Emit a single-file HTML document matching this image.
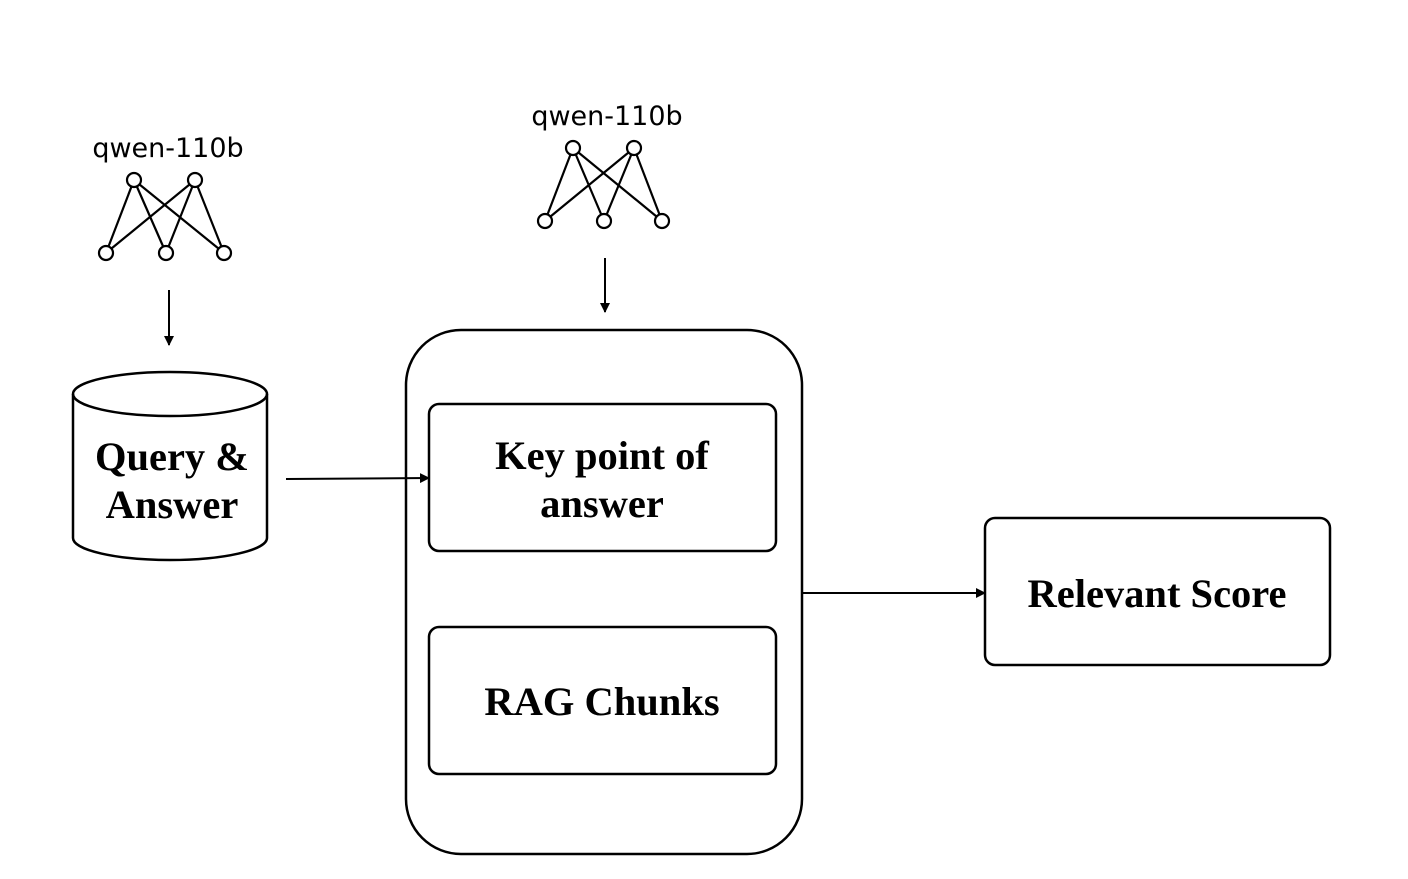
<!DOCTYPE html>
<html><head><style>
body{margin:0;background:#fff;}
svg{display:block;}
.s{font-family:"Liberation Serif",serif;font-weight:bold;font-size:40.5px;fill:#000;text-anchor:middle;}
.q{font-family:"DejaVu Sans","Liberation Sans",sans-serif;font-size:27px;fill:#000;text-anchor:middle;}
</style></head><body>
<svg width="1408" height="879" viewBox="0 0 1408 879" xmlns="http://www.w3.org/2000/svg">
<defs><marker id="a" markerWidth="10" markerHeight="10" refX="9" refY="5" orient="auto" markerUnits="userSpaceOnUse"><path d="M0,0 L10,5 L0,10 z" fill="#000"/></marker></defs>
<g stroke="#000" stroke-width="2.2" fill="none">
<line x1="134" y1="180" x2="106" y2="253"/><line x1="134" y1="180" x2="166" y2="253"/><line x1="134" y1="180" x2="224" y2="253"/>
<line x1="195" y1="180" x2="106" y2="253"/><line x1="195" y1="180" x2="166" y2="253"/><line x1="195" y1="180" x2="224" y2="253"/>
<line x1="573" y1="148" x2="545" y2="221"/><line x1="573" y1="148" x2="604" y2="221"/><line x1="573" y1="148" x2="662" y2="221"/>
<line x1="634" y1="148" x2="545" y2="221"/><line x1="634" y1="148" x2="604" y2="221"/><line x1="634" y1="148" x2="662" y2="221"/>
</g>
<g stroke="#000" stroke-width="2.2" fill="#fff">
<circle cx="134" cy="180" r="7"/><circle cx="195" cy="180" r="7"/>
<circle cx="106" cy="253" r="7"/><circle cx="166" cy="253" r="7"/><circle cx="224" cy="253" r="7"/>
<circle cx="573" cy="148" r="7"/><circle cx="634" cy="148" r="7"/>
<circle cx="545" cy="221" r="7"/><circle cx="604" cy="221" r="7"/><circle cx="662" cy="221" r="7"/>
</g>
<text class="q" x="168" y="157">qwen-110b</text>
<text class="q" x="607" y="125">qwen-110b</text>
<g stroke="#000" stroke-width="2" fill="none">
<line x1="169" y1="290" x2="169" y2="345" marker-end="url(#a)"/>
<line x1="605" y1="258" x2="605" y2="312" marker-end="url(#a)"/>
<line x1="286" y1="479" x2="429" y2="478" marker-end="url(#a)"/>
<line x1="802" y1="593" x2="985" y2="593" marker-end="url(#a)"/>
</g>
<g stroke="#000" stroke-width="2.5" fill="none">
<path d="M73,394 L73,538 A97,22 0 0 0 267,538 L267,394"/>
<ellipse cx="170" cy="394" rx="97" ry="22"/>
<rect x="406" y="330" width="396" height="524" rx="55"/>
<rect x="429" y="404" width="347" height="147" rx="10"/>
<rect x="429" y="627" width="347" height="147" rx="10"/>
<rect x="985" y="518" width="345" height="147" rx="10"/>
</g>
<text class="s" x="172" y="470">Query &amp;</text>
<text class="s" x="172" y="518">Answer</text>
<text class="s" x="602" y="469">Key point of</text>
<text class="s" x="602" y="517">answer</text>
<text class="s" x="602" y="715">RAG Chunks</text>
<text class="s" x="1157" y="607">Relevant Score</text>
</svg>
</body></html>
